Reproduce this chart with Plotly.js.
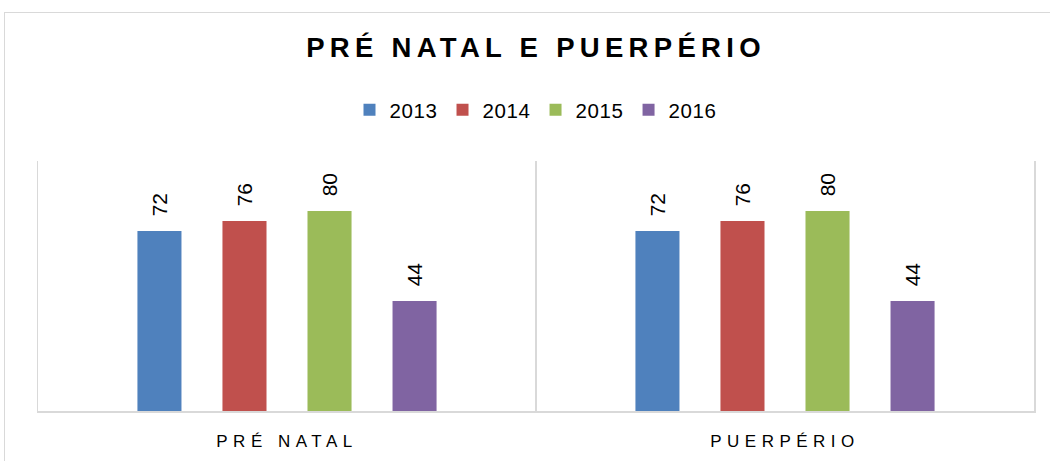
<!DOCTYPE html>
<html>
<head>
<meta charset="utf-8">
<script src="https://cdn.plot.ly/plotly-3.0.1.min.js"></script>
<style>
  html, body { margin: 0; padding: 0; background: #fff; overflow: hidden; }
  #wrap { position: relative; width: 1050px; height: 461px; overflow: hidden; }
  #frame { position: absolute; left: 4px; top: 12px; width: 1100px; height: 500px;
           border: 1.5px solid #d9d9d9; box-sizing: border-box; pointer-events: none; }
  #chart { position: absolute; left: 0; top: 0; width: 1050px; height: 461px; }
  .gtitle { letter-spacing: 5.3px; }
  .xtick text { letter-spacing: 5.5px; }
  .legendtext { letter-spacing: 0.6px; }
</style>
</head>
<body>
<div id="wrap">
  <div id="chart"></div>
  <div id="frame"></div>
</div>
<script>
const categories = ["PRÉ NATAL", "PUERPÉRIO"];
const seriesNames = ["2013", "2014", "2015", "2016"];
const values2013 = [72, 72];
const values2014 = [76, 76];
const values2015 = [80, 80];
const values2016 = [44, 44];
const seriesColors = ["#4F81BD", "#C0504D", "#9BBB59", "#8064A2"];
const chartTitle = "PRÉ NATAL E PUERPÉRIO";

const allValues = [values2013, values2014, values2015, values2016];

const traces = allValues.map((vals, i) => ({
  type: "bar",
  name: seriesNames[i],
  x: categories,
  y: vals,
  marker: { color: seriesColors[i] },
  texttemplate: "\u00a0\u00a0%{y}",
  textposition: "outside",
  textangle: -90,
  textfont: { family: "Liberation Sans, Arial, sans-serif", size: 21, color: "#000" },
  cliponaxis: false,
  hoverinfo: "x+y+name"
}));

const layout = {
  width: 1050,
  height: 461,
  margin: { l: 38, r: 16, t: 161, b: 50 },
  paper_bgcolor: "rgba(0,0,0,0)",
  plot_bgcolor: "rgba(0,0,0,0)",
  font: { family: "Liberation Sans, Arial, sans-serif", color: "#000" },
  title: {
    text: "<b>" + chartTitle + "</b>",
    font: { family: "Liberation Sans, Arial, sans-serif", size: 27.5, color: "#000" },
    x: 0.5, xref: "paper", xanchor: "center",
    y: 1 - 47 / 461, yref: "container", yanchor: "middle"
  },
  barmode: "group",
  bargap: 0.317,
  bargroupgap: 0.482,
  showlegend: true,
  legend: {
    orientation: "h",
    x: 0.5, xanchor: "center",
    y: 1.204, yanchor: "middle",
    font: { family: "Liberation Sans, Arial, sans-serif", size: 20.5, color: "#000" },
    itemwidth: 30,
    traceorder: "normal"
  },
  xaxis: {
    type: "category",
    range: [-0.5, 1.5],
    tickson: "boundaries",
    showgrid: true,
    gridcolor: "#d9d9d9",
    gridwidth: 1.5,
    showline: true,
    linecolor: "#d9d9d9",
    linewidth: 1.5,
    ticks: "",
    ticklabelstandoff: 14,
    tickfont: { family: "Liberation Sans, Arial, sans-serif", size: 17, color: "#000" },
    fixedrange: true
  },
  yaxis: {
    range: [0, 100],
    showticklabels: false,
    showgrid: false,
    zeroline: false,
    showline: true,
    mirror: true,
    linecolor: "#d9d9d9",
    linewidth: 1.5,
    ticks: "",
    fixedrange: true
  }
};

Plotly.newPlot("chart", traces, layout, { displayModeBar: false, staticPlot: true });
</script>
</body>
</html>
